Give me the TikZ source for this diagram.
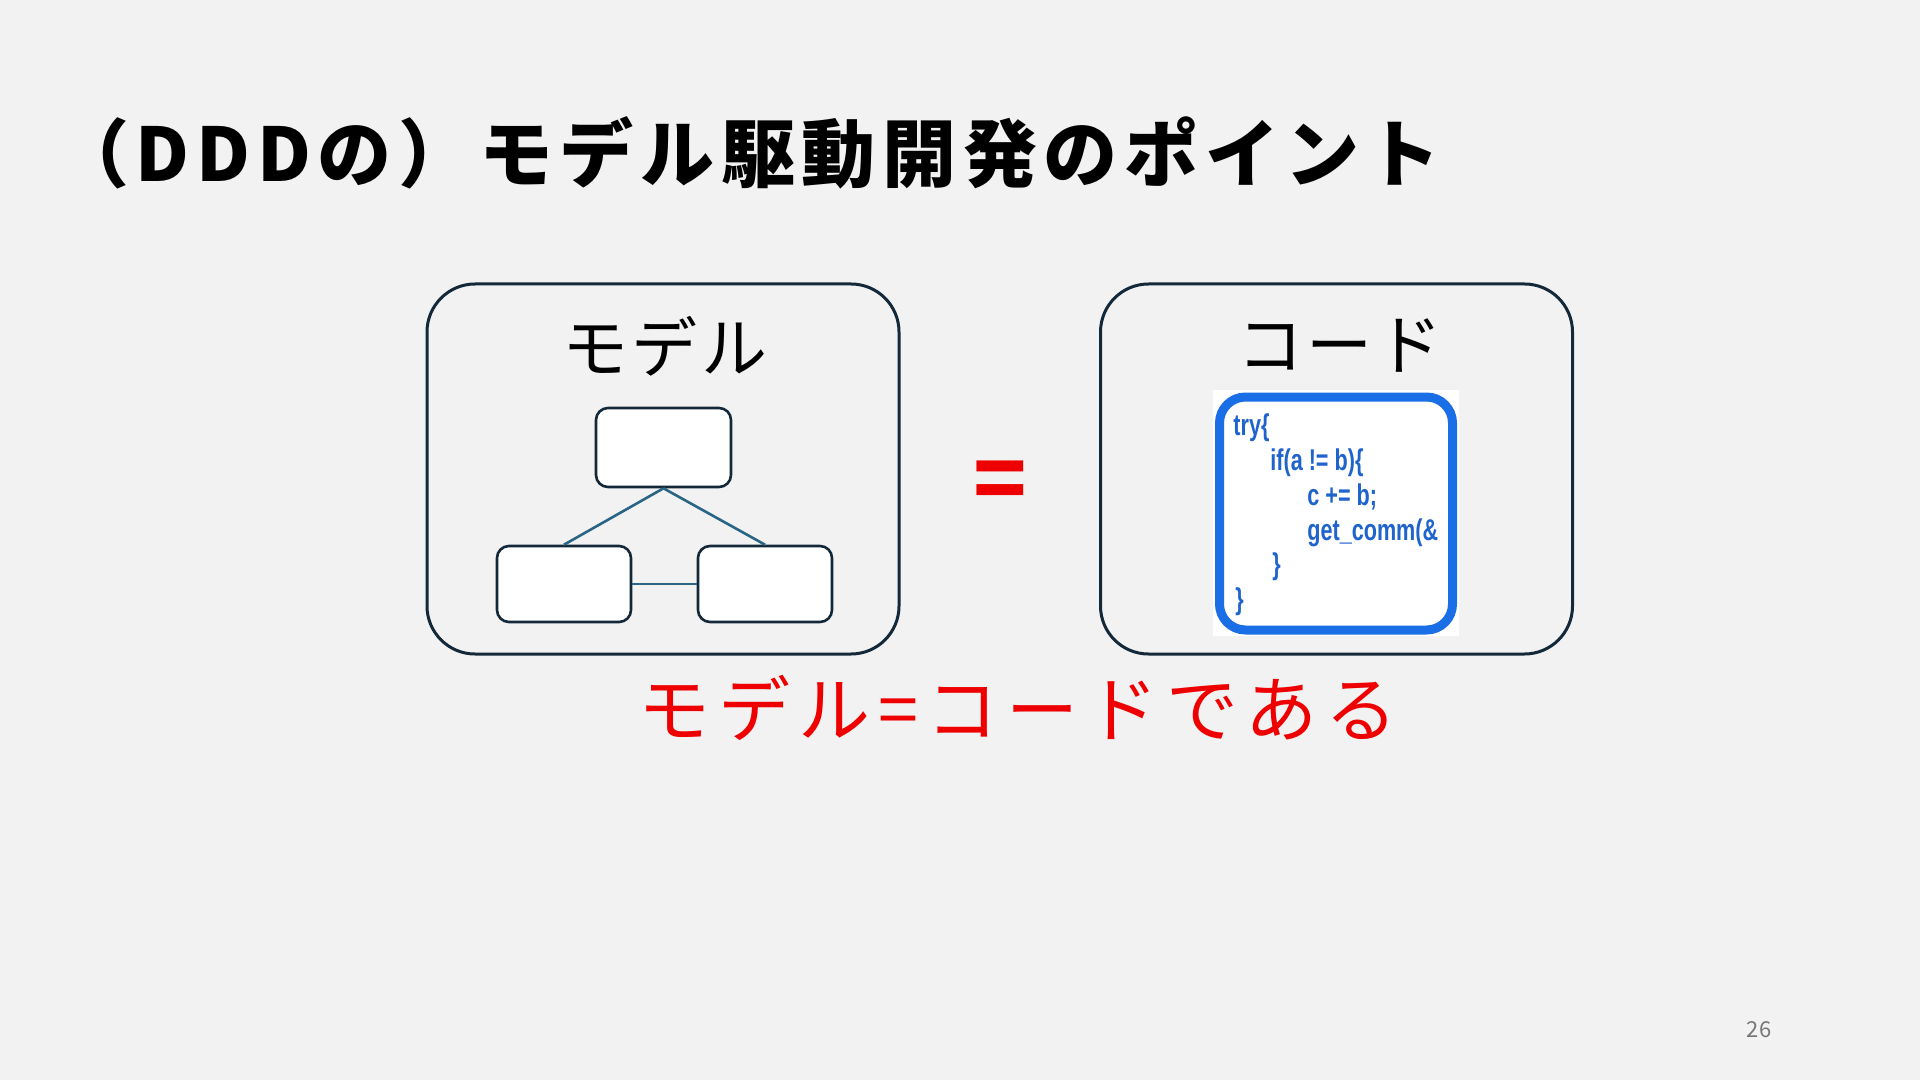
\documentclass[tikz,border=0pt]{standalone}
\usepackage{fontspec}
\newfontfamily\jp{Noto Sans CJK JP}
\newfontfamily\jpsp[LetterSpace=9]{Noto Sans CJK JP}
\newfontfamily\jpred[LetterSpace=11]{Noto Sans CJK JP}
\newfontfamily\jpttl[LetterSpace=5]{Noto Sans CJK JP}
\newfontfamily\codefont{Liberation Sans}
\definecolor{bgc}{HTML}{F2F2F2}
\definecolor{boxline}{HTML}{13293A}
\definecolor{linkc}{HTML}{2A6585}
\definecolor{codeblue}{HTML}{1F63CC}
\definecolor{frameblue}{HTML}{1A6FE6}
\definecolor{redc}{HTML}{EE0000}
\definecolor{numgray}{HTML}{777777}
\tikzset{
  outerbox/.style={draw=boxline, line width=1.5pt, rounded corners=24pt, minimum width=236pt, minimum height=185pt, inner sep=0pt},
  smallbox/.style={draw=boxline, fill=white, line width=1.3pt, rounded corners=6pt, inner sep=0pt},
  link/.style={draw=linkc, line width=1.3pt},
  codeline/.style={anchor=base west, inner sep=0pt, text=codeblue, font=\codefont\bfseries\fontsize{15pt}{15pt}\selectfont},
  boxtitle/.style={font=\jpttl\fontsize{33pt}{33pt}\selectfont, inner sep=0pt}
}
\begin{document}
\begin{tikzpicture}[x=0.5pt,y=-0.5pt]
\fill[bgc] (0,0) rectangle (1920,1080);
\useasboundingbox (0,0) rectangle (1920,1080);

% title
\node[anchor=west, inner sep=0pt, font=\jpsp\bfseries\fontsize{37pt}{37pt}\selectfont] (title) at (55,153) {（DDDの）モデル駆動開発のポイント};

% model box
\node[outerbox] (mbox) at (663,469) {};
\node[boxtitle] (mtitle) at (665,346) {モデル};
\node[smallbox, minimum width=67.5pt, minimum height=39.5pt] (top) at (663.5,447.5) {};
\node[smallbox, minimum width=67pt, minimum height=38pt] (left) at (564,584) {};
\node[smallbox, minimum width=67pt, minimum height=38pt] (right) at (765,584) {};
\draw[link] (top.south) -- (left.north);
\draw[link] (top.south) -- (right.north);
\draw[link] (left.east) -- (right.west);

% equals
\node[inner sep=0pt, text=redc, font=\jp\bfseries\fontsize{44pt}{44pt}\selectfont] (eq) at (1000,486) {=};

% code box
\node[outerbox] (cbox) at (1336.5,469) {};
\node[boxtitle] (ctitle) at (1340,346) {コード};
\node[fill=white, inner sep=0pt, minimum width=123pt, minimum height=123pt] (codeimg) at (1336,513) {};
\node[draw=frameblue, line width=4.5pt, rounded corners=13pt, inner sep=0pt, minimum width=116.5pt, minimum height=116.5pt] (codeframe) at (1336,513.5) {};
\node[codeline] (l1) at (1233,435) {\scalebox{0.72}[1]{try\{}};
\node[codeline] (l2) at (1270,470) {\scalebox{0.72}[1]{if(a != b)\{}};
\node[codeline] (l3) at (1307,505) {\scalebox{0.72}[1]{c += b;}};
\node[codeline] (l4) at (1307,540) {\scalebox{0.72}[1]{get\_comm(\&}};
\node[codeline] (l5) at (1272,574) {\scalebox{0.72}[1]{\}}};
\node[codeline] (l6) at (1235,609) {\scalebox{0.72}[1]{\}}};

% statement
\node[inner sep=0pt, text=redc, font=\jpred\fontsize{36pt}{36pt}\selectfont] (stmt) at (1018,708) {モデル=コードである};

% page number
\node[inner sep=0pt, text=numgray, font=\jp\fontsize{11pt}{11pt}\selectfont] (pnum) at (1759,1030) {26};
\end{tikzpicture}
\end{document}
